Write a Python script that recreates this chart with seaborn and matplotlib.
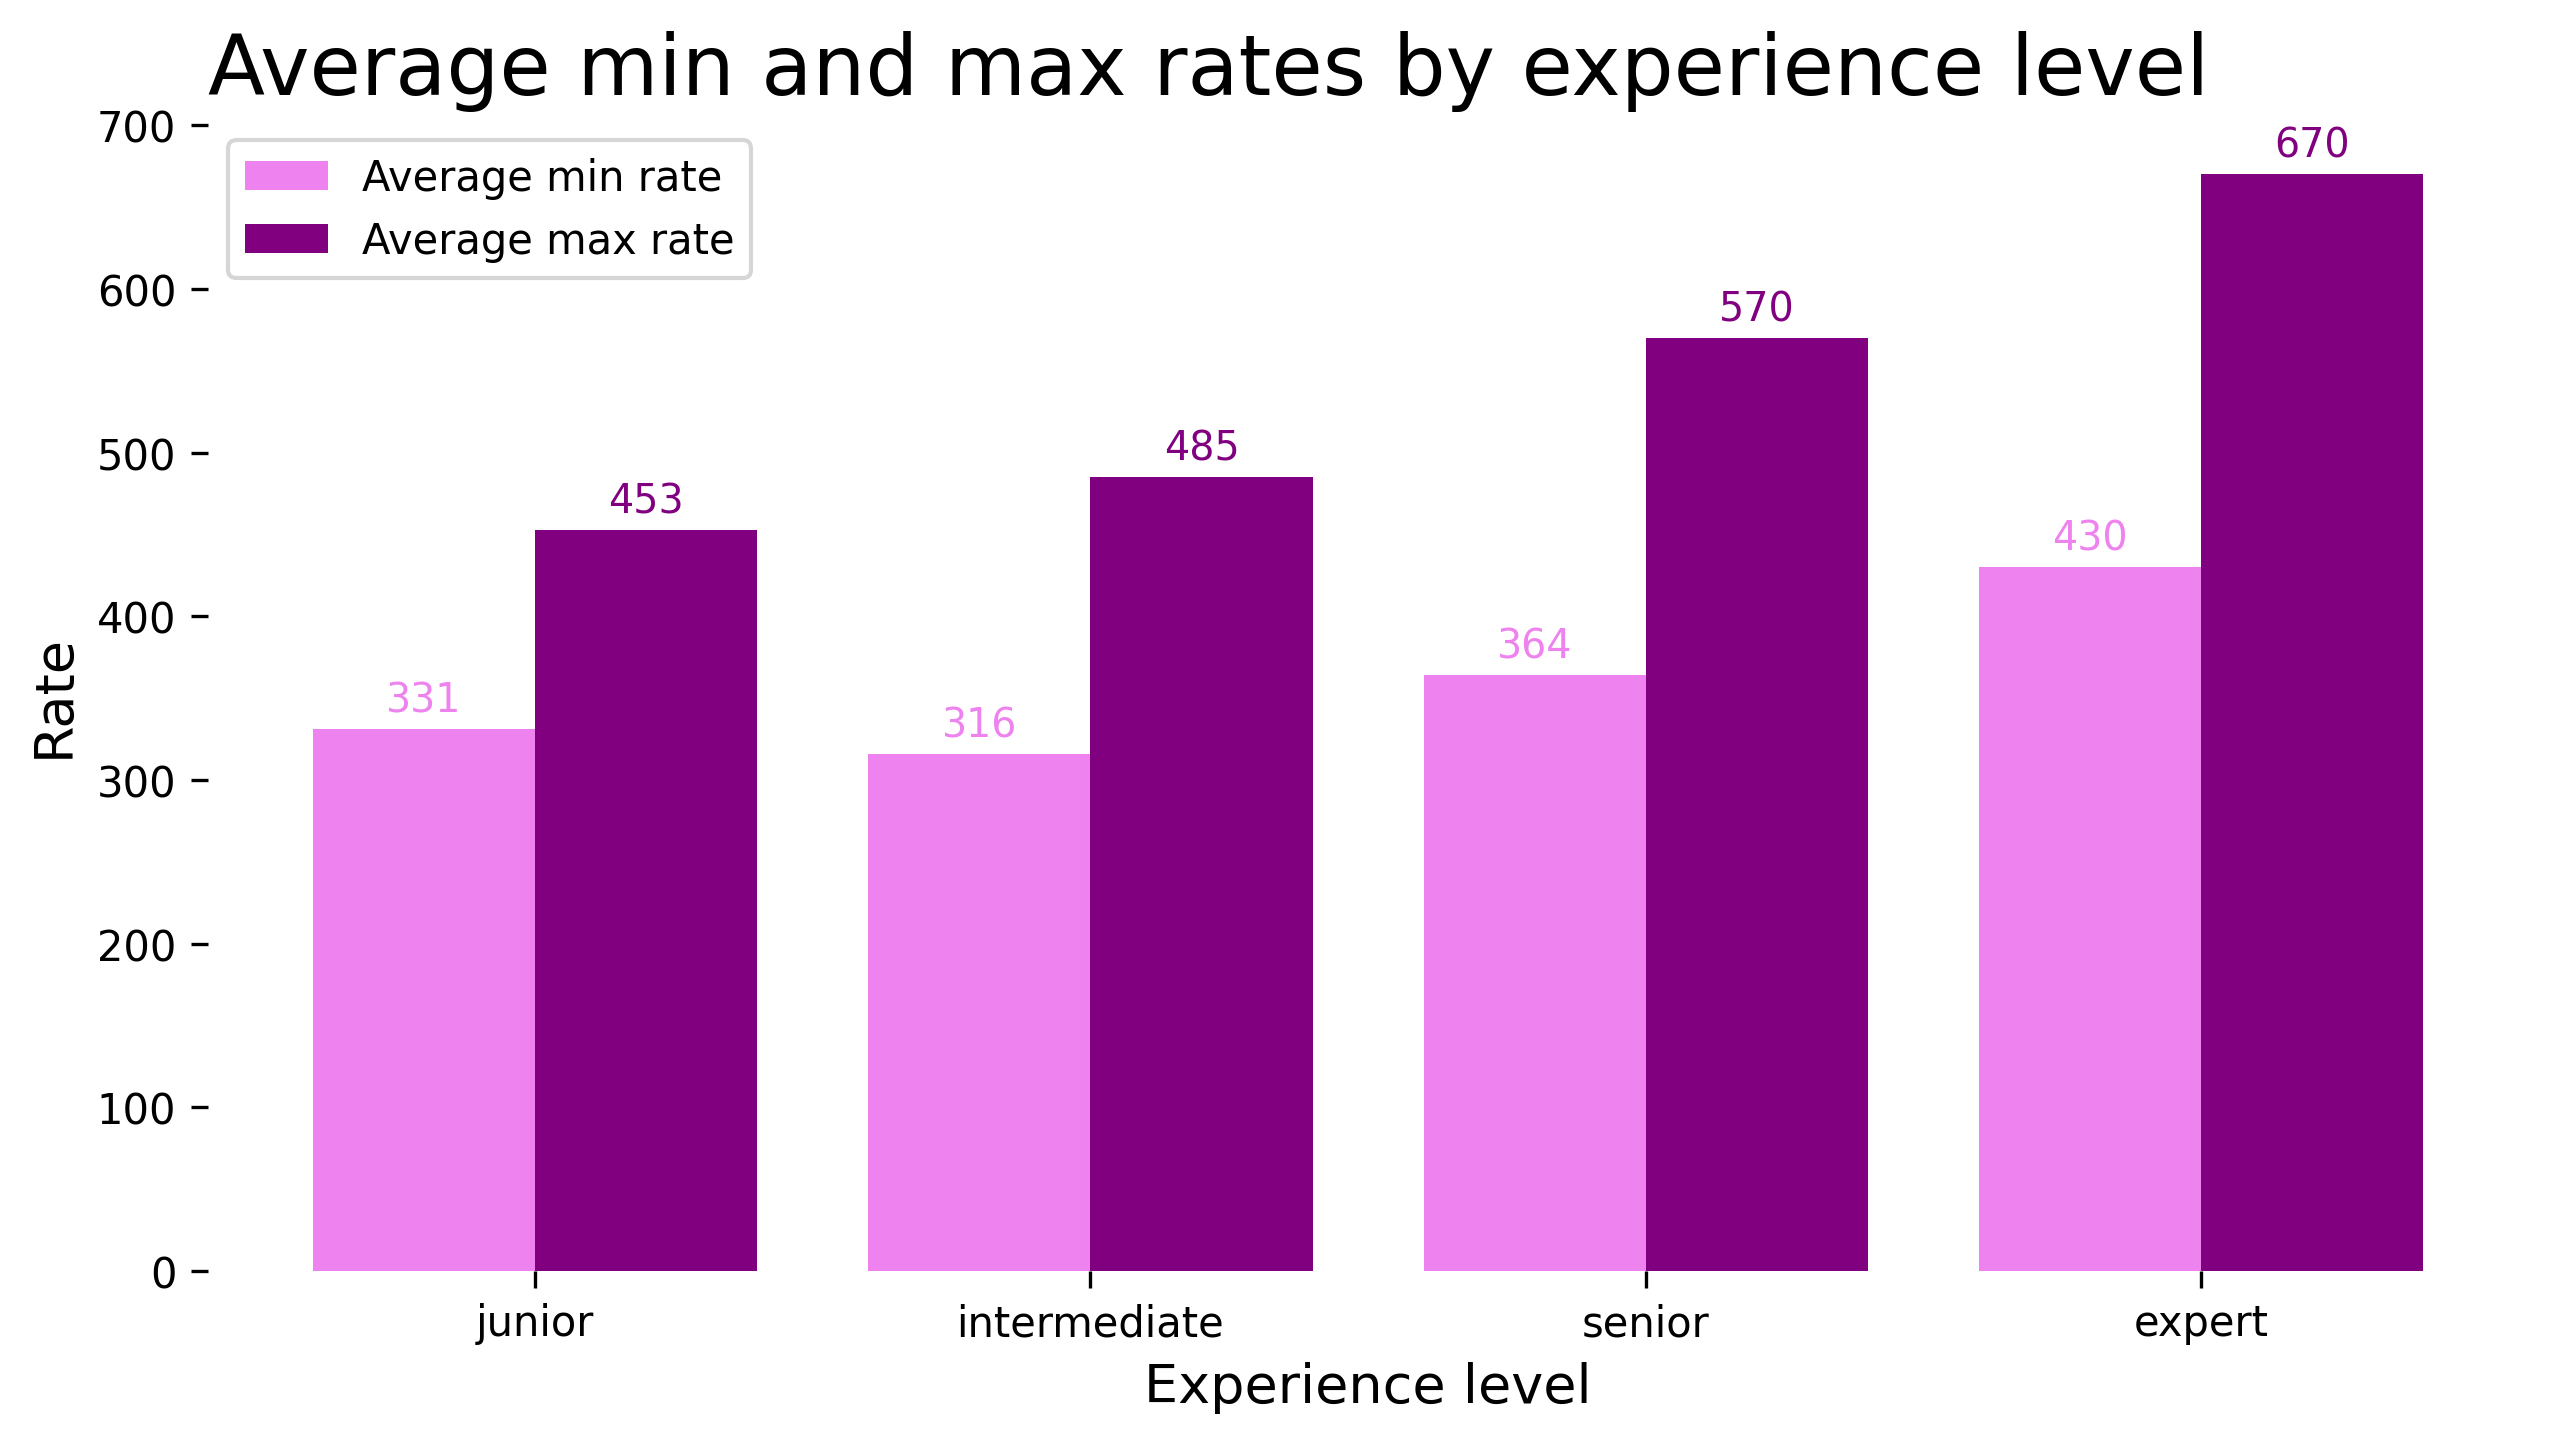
import pandas as pd
import matplotlib
matplotlib.use('Agg')
import matplotlib.pyplot as plt
import seaborn as sns

levels = ["junior", "intermediate", "senior", "expert"]
min_rates = [331, 316, 364, 430]
max_rates = [453, 485, 570, 670]
series_names = ["Average min rate", "Average max rate"]
colors = ["violet", "purple"]

df = pd.DataFrame({
    "level": levels * 2,
    "rate": min_rates + max_rates,
    "series": [series_names[0]] * 4 + [series_names[1]] * 4,
})

sns.set_style("white")
plt.rcParams['font.family'] = ['DejaVu Sans']
for k in ["text.color", "axes.labelcolor", "xtick.color", "ytick.color"]:
    plt.rcParams[k] = "black"

fig = plt.figure(figsize=(2562 / 300, 1443 / 300), dpi=300)
ax = fig.add_axes([0.081, 0.1185, 0.906, 0.798])

sns.barplot(data=df, x="level", y="rate", hue="series", palette=colors,
            width=0.8, saturation=1, linewidth=0, ax=ax)

for cont, c in zip(ax.containers, colors):
    ax.bar_label(cont, fmt="%d", color=c, fontsize=9.5, padding=2)

ax.set_xlim(-0.59, 3.59)
ax.set_ylim(0, 703.5)
ax.set_yticks(range(0, 701, 100))
for s in ax.spines.values():
    s.set_visible(False)
ax.tick_params(axis="both", which="both", left=True, bottom=True,
               length=4, width=0.8, labelsize=10, color="black")
ax.set_xlabel("Experience level", fontsize=13)
ax.set_ylabel("Rate", fontsize=13)
ax.set_title("Average min and max rates by experience level", fontsize=20,
             loc="left", pad=6)
ax.legend(loc="upper left", fontsize=10, frameon=True, title=None)

fig.savefig("out.png", dpi=300)
